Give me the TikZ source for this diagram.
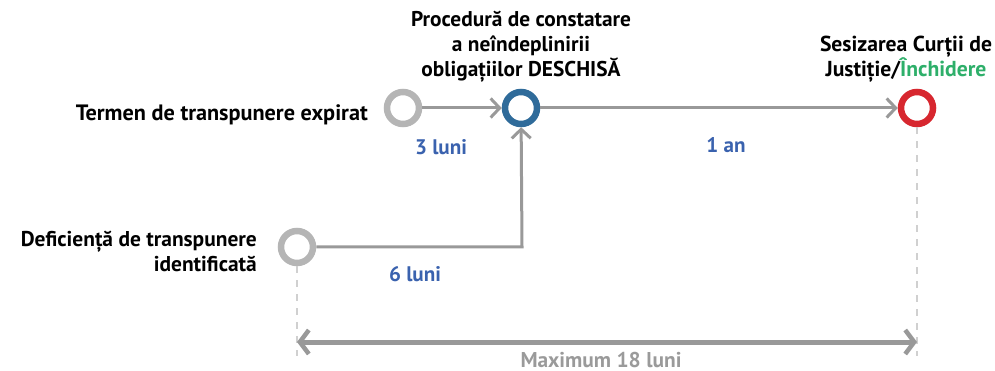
\documentclass[tikz,border=0pt]{standalone}
\usepackage{fontspec}
\setmainfont{PT Sans}
\usetikzlibrary{arrows.meta}
\definecolor{cgrey}{HTML}{B5B5B5}
\definecolor{agrey}{HTML}{999999}
\definecolor{dgrey}{HTML}{D0D0D0}
\definecolor{cblue}{HTML}{2F6B9A}
\definecolor{cred}{HTML}{D7272F}
\definecolor{lblue}{HTML}{3A62AE}
\definecolor{lgreen}{HTML}{2EAF6A}
\definecolor{tgrey}{HTML}{9A9A9A}
\newlength\fitw
% \fitsize{macro}{target width}{text}
\newcommand\fitsize[3]{\settowidth\fitw{\normalfont\bfseries\fontsize{10}{12}\selectfont #3}\pgfmathsetmacro\fittmp{10*#2/\fitw}\global\let#1\fittmp}
\AtBeginDocument{%
\fitsize{\szT}{292}{Termen de transpunere expirat}%
\fitsize{\szD}{236}{Deficiență de transpunere}%
\fitsize{\szP}{220}{Procedură de constatare}%
\fitsize{\szS}{172}{Sesizarea Curții de}%
\fitsize{\szL}{52}{3 luni}%
\fitsize{\szM}{161}{Maximum 18 luni}%
}
\tikzset{
  ev/.style={circle,draw=#1,line width=6.5pt,minimum size=32pt,inner sep=0pt},
  conn/.style={draw=agrey,line width=3pt,-{Straight Barb[length=9pt,width=19pt,line width=3pt]}},
  lab/.style={inner sep=0pt,text=black},
  dur/.style={inner sep=0pt,text=lblue},
  guide/.style={draw=dgrey,line width=1.3pt,dash pattern=on 7pt off 7pt}
}
\begin{document}
\begin{tikzpicture}[x=1pt,y=-1pt]
\useasboundingbox (0,0) rectangle (995,371);

\node[ev=cgrey] (t) at (403,108) {};
\node[ev=cblue] (p) at (521,108) {};
\node[ev=cred] (s) at (917,108) {};
\node[ev=cgrey] (d) at (297,247) {};
\coordinate (corner) at (522,247);
\coordinate (dbot) at (297,356);
\coordinate (sbot) at (917,356);
\coordinate (al) at (297,342);
\coordinate (ar) at (917,342);

\draw[conn] (t) -- (p);
\draw[conn] (p) -- (s);
\draw[conn] (d) -- (corner) -- (p);

\draw[guide] (d) -- (dbot);
\draw[guide] (s) -- (sbot);
\draw[draw=agrey,line width=5pt,{Straight Barb[length=9pt,width=24pt,line width=4.5pt]}-{Straight Barb[length=9pt,width=24pt,line width=4.5pt]}] (al) -- (ar);

\node[lab,anchor=base east] (tl) at (368,121) {\bfseries\fontsize{\szT}{25}\selectfont Termen de transpunere expirat};
\node[lab,anchor=base east] (dl1) at (257,247) {\bfseries\fontsize{\szD}{25}\selectfont Deficiență de transpunere};
\node[lab,anchor=base east] (dl2) at (257,272) {\bfseries\fontsize{\szD}{25}\selectfont identificată};
\node[lab,anchor=base] (pl1) at (521,27) {\bfseries\fontsize{\szP}{25}\selectfont Procedură de constatare};
\node[lab,anchor=base] (pl2) at (521,52) {\bfseries\fontsize{\szP}{25}\selectfont a neîndeplinirii};
\node[lab,anchor=base] (pl3) at (521,77) {\bfseries\fontsize{\szP}{25}\selectfont obligațiilor DESCHISĂ};
\node[lab,anchor=base] (sl1) at (906,52) {\bfseries\fontsize{\szS}{25}\selectfont Sesizarea Curții de};
\node[lab,anchor=base] (sl2) at (906,77) {\bfseries\fontsize{\szS}{25}\selectfont Justiție/\textcolor{lgreen}{Închidere}};

\node[dur,anchor=base] (l3) at (441,155) {\bfseries\fontsize{\szL}{20}\selectfont 3 luni};
\node[dur,anchor=base] (l1) at (726,153) {\bfseries\fontsize{\szL}{20}\selectfont 1 an};
\node[dur,anchor=base] (l6) at (415,281) {\bfseries\fontsize{\szL}{20}\selectfont 6 luni};
\node[inner sep=0pt,text=tgrey,anchor=base] (mx) at (601,367) {\bfseries\fontsize{\szM}{20}\selectfont Maximum 18 luni};
\end{tikzpicture}
\end{document}
